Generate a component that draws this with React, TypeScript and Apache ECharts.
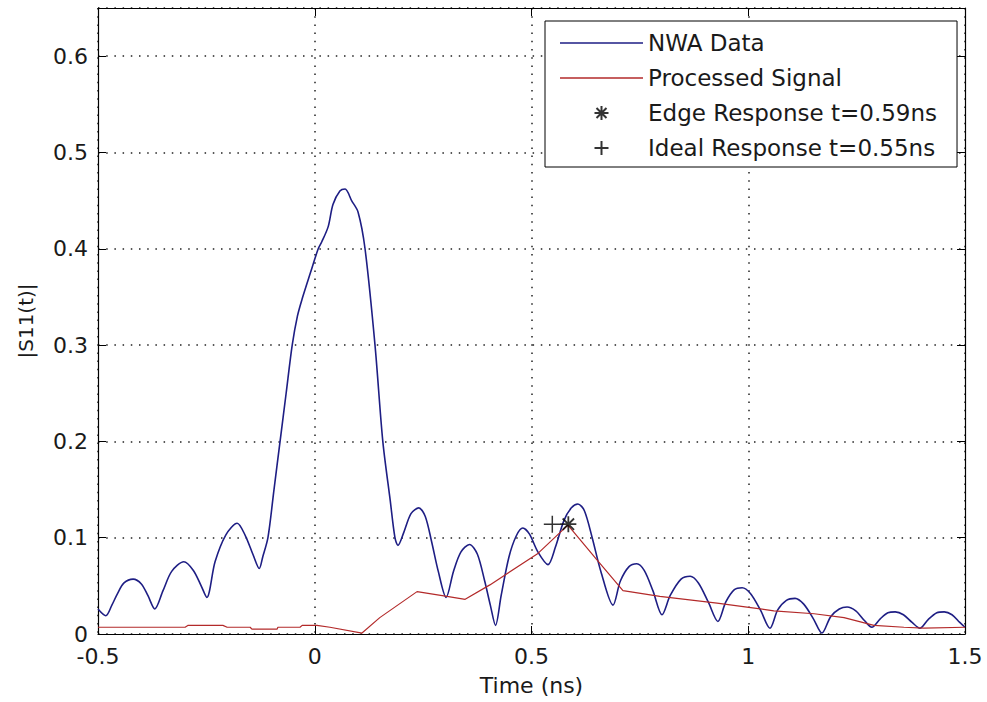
import React, { useEffect, useRef } from "react";
import * as echarts from "echarts";

// NWA Data: [time (ns), |S11(t)|]
const nwaData: [number, number][] = [
  [-0.5, 0.026], [-0.482, 0.019], [-0.468, 0.030], [-0.455, 0.042], [-0.44, 0.053], [-0.419, 0.057],
  [-0.4, 0.052], [-0.385, 0.04], [-0.369, 0.026], [-0.35, 0.045], [-0.33, 0.065], [-0.302, 0.075],
  [-0.28, 0.066], [-0.262, 0.05], [-0.249, 0.038], [-0.23, 0.075], [-0.205, 0.103], [-0.179, 0.115],
  [-0.16, 0.102], [-0.142, 0.082], [-0.128, 0.068], [-0.12, 0.08], [-0.108, 0.1], [-0.094, 0.15],
  [-0.08, 0.2], [-0.066, 0.25], [-0.052, 0.3], [-0.04, 0.33], [-0.029, 0.348], [-0.01, 0.375],
  [0.008, 0.4], [0.016, 0.407], [0.031, 0.423], [0.042, 0.446], [0.058, 0.46], [0.07, 0.462],
  [0.085, 0.45], [0.1, 0.438], [0.116, 0.4], [0.139, 0.3], [0.157, 0.2], [0.174, 0.139],
  [0.185, 0.1], [0.192, 0.092], [0.205, 0.105], [0.222, 0.125], [0.24, 0.131], [0.255, 0.122],
  [0.27, 0.095], [0.285, 0.065], [0.303, 0.038], [0.32, 0.065], [0.337, 0.085], [0.357, 0.093],
  [0.375, 0.083], [0.392, 0.055], [0.405, 0.03], [0.417, 0.009], [0.43, 0.04], [0.448, 0.08],
  [0.465, 0.102], [0.48, 0.11], [0.495, 0.104], [0.515, 0.085], [0.538, 0.072], [0.555, 0.09],
  [0.575, 0.118], [0.592, 0.131], [0.607, 0.135], [0.622, 0.128], [0.64, 0.1], [0.66, 0.065],
  [0.688, 0.03], [0.705, 0.055], [0.725, 0.07], [0.743, 0.073], [0.76, 0.066], [0.78, 0.045],
  [0.801, 0.02], [0.82, 0.04], [0.845, 0.057], [0.866, 0.06], [0.885, 0.053], [0.908, 0.033],
  [0.93, 0.013], [0.948, 0.033], [0.968, 0.046], [0.986, 0.048], [1.005, 0.042], [1.028, 0.025],
  [1.05, 0.006], [1.068, 0.025], [1.088, 0.035], [1.108, 0.037], [1.128, 0.031], [1.15, 0.016],
  [1.17, 0.001], [1.19, 0.018], [1.21, 0.026], [1.228, 0.028], [1.248, 0.024], [1.268, 0.014],
  [1.285, 0.007], [1.305, 0.016], [1.322, 0.022], [1.339, 0.023], [1.358, 0.02], [1.378, 0.012],
  [1.396, 0.006], [1.415, 0.015], [1.435, 0.022], [1.452, 0.023], [1.47, 0.02], [1.488, 0.012],
  [1.5, 0.007],
];

// Processed Signal
const processedData: [number, number][] = [
  [-0.5, 0.007], [-0.299, 0.007], [-0.292, 0.009], [-0.212, 0.009], [-0.202, 0.007], [-0.149, 0.007],
  [-0.145, 0.005], [-0.087, 0.005], [-0.085, 0.007], [-0.034, 0.007], [-0.029, 0.009], [0.005, 0.009],
  [0.035, 0.007], [0.109, 0.001], [0.15, 0.017], [0.236, 0.044], [0.305, 0.039], [0.347, 0.036],
  [0.404, 0.051], [0.513, 0.083], [0.584, 0.113], [0.651, 0.077], [0.711, 0.045], [0.796, 0.039],
  [0.928, 0.032], [0.997, 0.028], [1.059, 0.024], [1.152, 0.021], [1.221, 0.017], [1.29, 0.009],
  [1.359, 0.007], [1.405, 0.006], [1.5, 0.007],
];

const edgeResponse: [number, number][] = [[0.585, 0.114]];
const idealResponse: [number, number][] = [[0.548, 0.114]];

const seriesNames = [
  "NWA Data",
  "Processed Signal",
  "Edge Response t=0.59ns",
  "Ideal Response t=0.55ns",
];

const X_MIN = -0.5;
const X_MAX = 1.5;
const X_STEP = 0.5;
const Y_MIN = 0;
const Y_MAX = 0.65;
const Y_STEP = 0.1;

const FONT = "DejaVu Sans";
const BLUE = "#1e1e84";
const RED = "#b32a2a";
const STAR_PATH = "path://M8 0L8 16M0 8L16 8M2.3 2.3L13.7 13.7M13.7 2.3L2.3 13.7";
const PLUS_PATH = "path://M8 0L8 16M0 8L16 8";
const LINE_ICON = "path://M0 0h83v1.4h-83z";

export default function App() {
  const ref = useRef<HTMLDivElement>(null);

  useEffect(() => {
    document.body.style.margin = "0";
    if (!ref.current) return;
    const chart = echarts.init(ref.current, undefined, { renderer: "svg" });

    const axisText = { color: "#1a1a1a", fontSize: 22, fontFamily: FONT };
    const frameLine = { show: true, onZero: false, lineStyle: { color: "#000", width: 1.2 } };
    const tick = { show: true, inside: true, length: 8, lineStyle: { color: "#000", width: 1 } };
    const dotted = { show: true, lineStyle: { color: "#222", width: 1.5, type: [1.5, 6.7] as number[] } };

    chart.setOption({
      animation: false,
      backgroundColor: "#ffffff",
      grid: { left: 98, top: 8, right: 22, bottom: 68, containLabel: false },
      legend: {
        orient: "vertical",
        left: 545,
        top: 21,
        padding: [10, 20, 7, 15],
        itemWidth: 83,
        itemHeight: 14,
        itemGap: 11,
        backgroundColor: "#fff",
        borderColor: "#000",
        borderWidth: 1,
        borderRadius: 0,
        textStyle: { fontSize: 23, fontFamily: FONT, color: "#1a1a1a", lineHeight: 24 },
        data: [
          { name: seriesNames[0], icon: LINE_ICON, itemStyle: { color: BLUE } },
          { name: seriesNames[1], icon: LINE_ICON, itemStyle: { color: RED } },
          { name: seriesNames[2], icon: STAR_PATH },
          { name: seriesNames[3], icon: PLUS_PATH },
        ],
      },
      xAxis: [
        {
          type: "value",
          min: X_MIN,
          max: X_MAX,
          interval: X_STEP,
          position: "bottom",
          name: "Time (ns)",
          nameLocation: "middle",
          nameGap: 40,
          nameTextStyle: axisText,
          axisLine: frameLine,
          axisTick: tick,
          axisLabel: { ...axisText, margin: 13, lineHeight: 18 },
          splitLine: dotted,
        },
        {
          type: "value",
          min: X_MIN,
          max: X_MAX,
          interval: X_STEP,
          position: "top",
          axisLine: frameLine,
          axisTick: tick,
          axisLabel: { show: false },
          splitLine: { show: false },
        },
      ],
      yAxis: [
        {
          type: "value",
          min: Y_MIN,
          max: Y_MAX,
          interval: Y_STEP,
          position: "left",
          name: "|S11(t)|",
          nameLocation: "middle",
          nameGap: 62,
          nameTextStyle: { ...axisText, fontSize: 20 },
          axisLine: frameLine,
          axisTick: tick,
          axisLabel: { ...axisText, margin: 10, lineHeight: 18, showMaxLabel: false },
          splitLine: dotted,
        },
        {
          type: "value",
          min: Y_MIN,
          max: Y_MAX,
          interval: Y_STEP,
          position: "right",
          axisLine: frameLine,
          axisTick: tick,
          axisLabel: { show: false },
          splitLine: { show: false },
        },
      ],
      series: [
        {
          name: seriesNames[0],
          type: "line",
          data: nwaData,
          symbol: "none",
          smooth: 0.3,
          lineStyle: { color: BLUE, width: 1.6 },
          itemStyle: { color: BLUE },
          z: 3,
        },
        {
          name: seriesNames[1],
          type: "line",
          data: processedData,
          symbol: "none",
          lineStyle: { color: RED, width: 1.2 },
          itemStyle: { color: RED },
          z: 4,
        },
        {
          name: seriesNames[2],
          type: "scatter",
          data: edgeResponse,
          symbol: STAR_PATH,
          symbolSize: 16,
          itemStyle: { color: "rgba(0,0,0,0)", borderColor: "#000", borderWidth: 1.8 },
          z: 5,
        },
        {
          name: seriesNames[3],
          type: "scatter",
          data: idealResponse,
          symbol: PLUS_PATH,
          symbolSize: 17,
          itemStyle: { color: "rgba(0,0,0,0)", borderColor: "#000", borderWidth: 1.5 },
          z: 5,
        },
      ],
    });

    return () => chart.dispose();
  }, []);

  return (
    <div
      ref={ref}
      style={{ position: "absolute", left: 0, top: 0, width: 987, height: 702, background: "#fff" }}
    />
  );
}
